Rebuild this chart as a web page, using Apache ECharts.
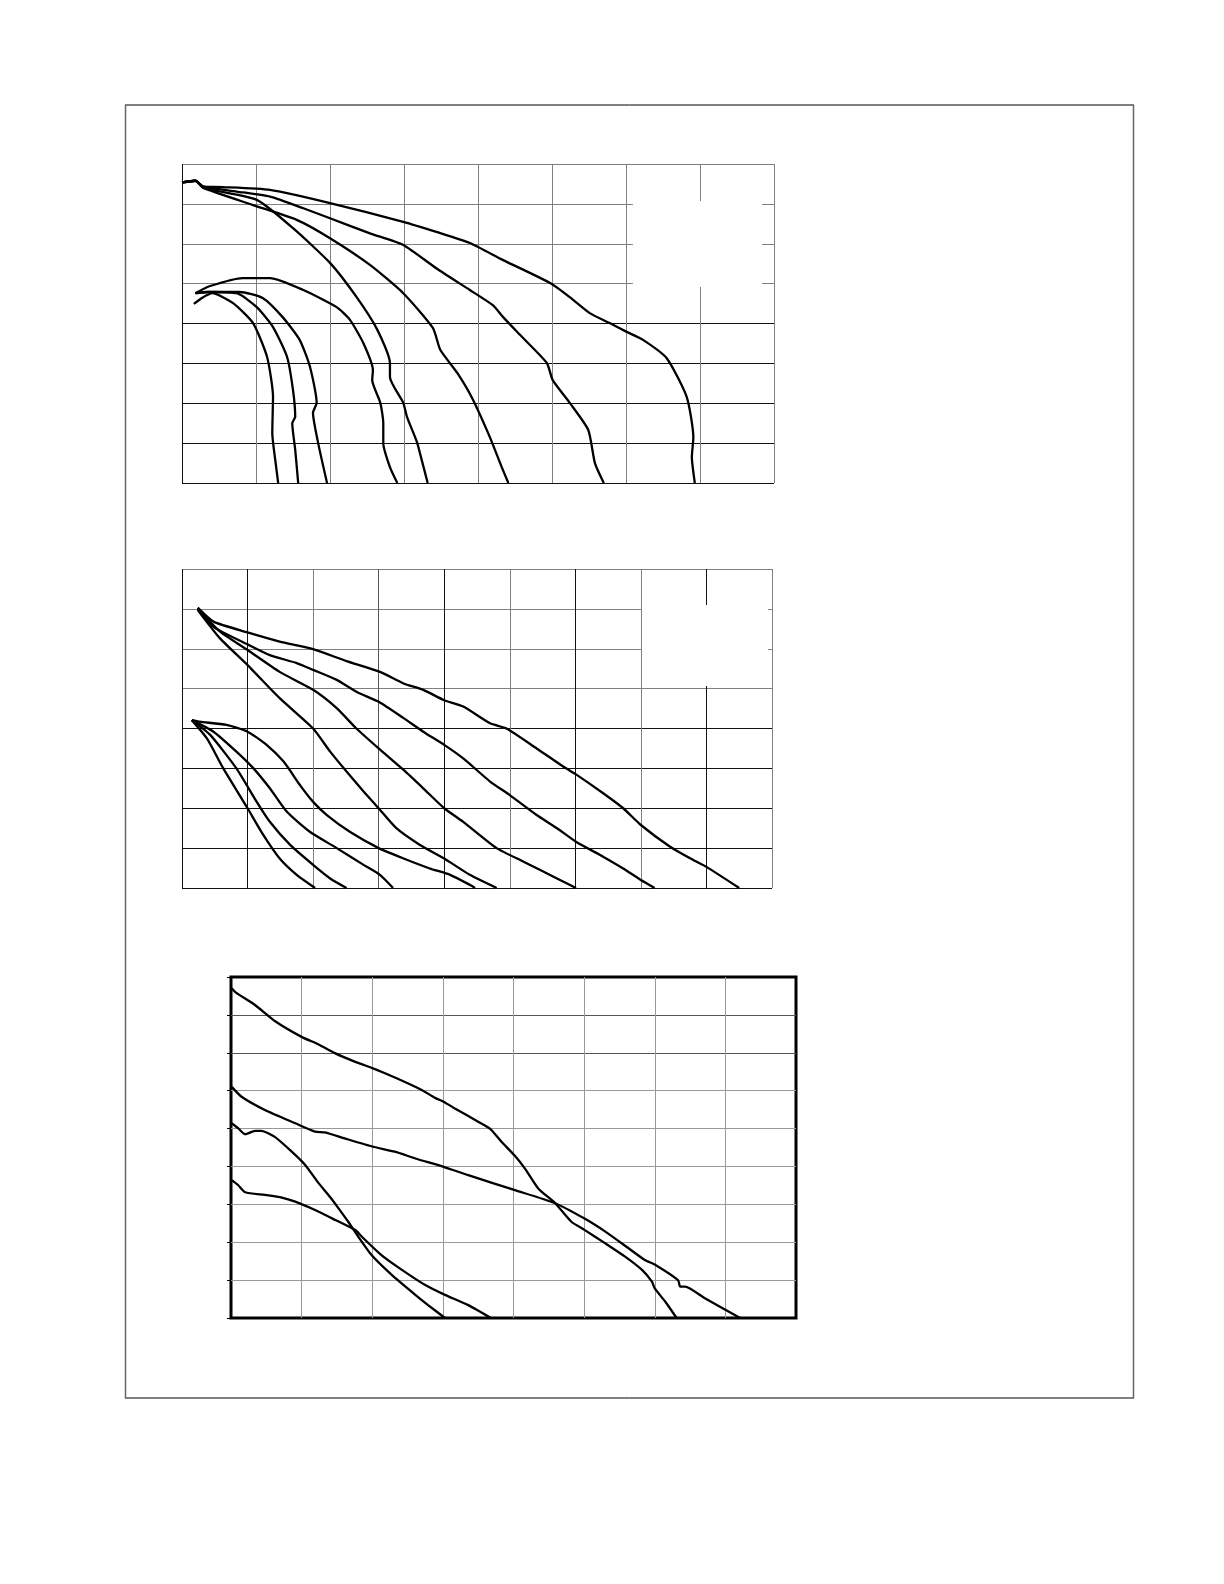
<!DOCTYPE html>
<html>
<head>
<meta charset="utf-8">
<script src="https://cdn.jsdelivr.net/npm/echarts@6/dist/echarts.min.js"></script>
<style>
html, body { margin: 0; padding: 0; background: #fff; }
#main { width: 1224px; height: 1584px; }
</style>
</head>
<body>
<div id="main"></div>
<script>
// 曲线数据，单位 = 网格格数（panel 1: 8x8, panel 2: 9x8, panel 3: 8x9）

// panel 1, upper fan
const p1Up1 = [[0,7.54],[0.18,7.58],[0.29,7.43],[0.55,7.42],[1.19,7.35],[2.0,7.02],[2.99,6.55],[3.45,6.29],[3.89,6.02],[4.34,5.59],[4.97,5.02],[5.24,4.66],[5.51,4.26],[5.78,4.01],[6.01,3.79],[6.23,3.59],[6.55,3.13],[6.82,2.16],[6.91,1.15],[6.89,0.65],[6.93,0]]
const p1Up2 = [[0,7.54],[0.18,7.58],[0.29,7.43],[0.74,7.31],[1.19,7.18],[1.64,6.89],[2.0,6.64],[2.54,6.26],[2.99,5.97],[3.44,5.38],[3.89,4.84],[4.2,4.46],[4.34,4.16],[4.57,3.71],[4.93,3.01],[5.01,2.58],[5.24,2.01],[5.49,1.33],[5.58,0.5],[5.7,0]]
const p1Up3 = [[0,7.54],[0.18,7.58],[0.29,7.4],[0.96,6.97],[1.55,6.6],[2.0,6.14],[2.54,5.47],[2.99,4.76],[3.39,3.89],[3.49,3.34],[3.72,2.76],[3.92,2.13],[4.16,1.15],[4.32,0.4],[4.41,0]]
const p1Up4 = [[0,7.54],[0.18,7.58],[0.29,7.4],[1.01,7.1],[1.5,6.39],[2.0,5.52],[2.36,4.66],[2.64,3.84],[2.81,3.01],[2.81,2.66],[2.99,2.01],[3.04,1.66],[3.18,1.0],[3.32,0]]
// panel 1, lower fan
const p1Lo1 = [[0.18,4.76],[0.38,4.94],[0.82,5.14],[1.19,5.14],[1.64,4.84],[2.09,4.41],[2.27,4.09],[2.45,3.51],[2.58,2.83],[2.57,2.58],[2.68,2.01],[2.72,1.5],[2.72,1.0],[2.81,0.4],[2.91,0]]
const p1Lo2 = [[0.18,4.76],[0.34,4.79],[0.78,4.79],[1.09,4.64],[1.36,4.16],[1.59,3.59],[1.73,2.91],[1.82,2.01],[1.77,1.76],[1.84,1.0],[1.96,0]]
const p1Lo3 = [[0.18,4.76],[0.38,4.79],[0.74,4.76],[1.01,4.41],[1.23,3.91],[1.42,3.16],[1.5,2.33],[1.53,1.66],[1.49,1.5],[1.53,0.83],[1.57,0]]
const p1Lo4 = [[0.16,4.49],[0.27,4.64],[0.41,4.76],[0.69,4.51],[0.96,4.01],[1.15,3.16],[1.23,2.16],[1.22,1.25],[1.26,0.58],[1.3,0]]

// panel 2, upper fan
const p2Up1 = [[0.24,7.03],[0.48,6.68],[1.0,6.41],[1.49,6.18],[2.0,5.99],[2.51,5.69],[3.02,5.42],[3.38,5.13],[3.68,4.97],[4.0,4.71],[4.29,4.55],[4.7,4.13],[4.95,4.0],[5.41,3.5],[5.82,3.04],[6.01,2.85],[6.43,2.37],[6.73,2.0],[7.0,1.58],[7.44,1.04],[7.8,0.7],[8.0,0.53],[8.5,0]]
const p2Up2 = [[0.24,7.01],[0.48,6.55],[1.0,6.11],[1.34,5.84],[1.75,5.64],[2.0,5.47],[2.36,5.22],[2.66,4.92],[3.0,4.67],[3.38,4.26],[3.68,3.92],[4.0,3.59],[4.29,3.25],[4.7,2.67],[5.0,2.33],[5.41,1.83],[5.72,1.5],[6.01,1.16],[6.43,0.78],[6.73,0.49],[7.0,0.2],[7.21,0]]
const p2Up3 = [[0.24,7.0],[0.58,6.43],[1.0,5.97],[1.49,5.42],[2.0,4.97],[2.36,4.51],[2.66,4.0],[3.0,3.5],[3.38,2.96],[3.68,2.5],[4.0,2.0],[4.29,1.66],[4.8,1.0],[5.21,0.66],[5.72,0.24],[6.01,0]]
const p2Up4 = [[0.24,6.97],[0.58,6.26],[1.0,5.59],[1.49,4.76],[2.0,4.0],[2.26,3.42],[2.51,2.92],[2.77,2.42],[3.0,2.0],[3.27,1.5],[3.63,1.08],[4.0,0.74],[4.39,0.33],[4.8,0]]
// panel 2, lower fan
const p2Lo1 = [[0.15,4.21],[0.27,4.17],[0.68,4.09],[1.0,3.92],[1.29,3.59],[1.55,3.17],[1.8,2.58],[2.0,2.16],[2.21,1.83],[2.56,1.41],[3.0,1.0],[3.38,0.74],[3.78,0.49],[4.09,0.33],[4.39,0.08],[4.47,0]]
const p2Lo2 = [[0.15,4.21],[0.48,3.92],[0.83,3.42],[1.09,3.0],[1.34,2.5],[1.6,1.91],[1.95,1.41],[2.36,1.0],[2.77,0.58],[3.02,0.33],[3.22,0]]
const p2Lo3 = [[0.15,4.21],[0.43,3.84],[0.83,3.0],[1.14,2.16],[1.34,1.66],[1.65,1.08],[2.0,0.58],[2.26,0.24],[2.51,0]]
const p2Lo4 = [[0.15,4.21],[0.38,3.75],[0.63,3.0],[1.0,2.0],[1.24,1.33],[1.49,0.74],[1.75,0.33],[2.03,0]]

// panel 3
const p3C1 = [[0.01,8.7],[0.06,8.6],[0.34,8.26],[0.62,7.84],[1.0,7.42],[1.24,7.22],[1.47,6.99],[1.76,6.76],[2.01,6.59],[2.18,6.46],[2.51,6.19],[2.7,6.02],[2.89,5.81],[3.01,5.71],[3.17,5.53],[3.5,5.18],[3.67,4.99],[3.83,4.65],[4.01,4.3],[4.16,3.95],[4.35,3.42],[4.59,3.03],[4.82,2.54],[5.01,2.32],[5.3,1.97],[5.58,1.62],[5.82,1.27],[5.96,0.96],[6.0,0.78],[6.15,0.43],[6.31,0]]
const p3C2 = [[0.01,6.1],[0.15,5.84],[0.48,5.49],[0.91,5.14],[1.19,4.92],[1.33,4.9],[1.61,4.74],[2.01,4.52],[2.32,4.39],[2.61,4.21],[3.01,3.99],[3.36,3.77],[4.01,3.38],[4.59,3.03],[5.0,2.63],[5.3,2.28],[5.63,1.84],[5.86,1.53],[6.01,1.4],[6.33,1.0],[6.36,0.83],[6.43,0.83],[6.71,0.52],[7.21,0]]
const p3C3 = [[0.01,5.14],[0.1,5.01],[0.2,4.85],[0.34,4.94],[0.43,4.94],[0.62,4.78],[0.86,4.39],[1.05,4.04],[1.24,3.56],[1.4,3.2],[1.52,2.9],[1.66,2.54],[1.8,2.15],[1.99,1.66],[2.28,1.13],[2.61,0.61],[2.79,0.34],[3.03,0]]
const p3C4 = [[0.01,3.64],[0.1,3.51],[0.2,3.32],[0.48,3.25],[0.72,3.18],[0.91,3.07],[1.19,2.85],[1.43,2.63],[1.76,2.32],[1.85,2.15],[2.13,1.66],[2.42,1.27],[2.75,0.87],[3.03,0.61],[3.36,0.34],[3.68,0]]

const panel1 = [p1Up1, p1Up2, p1Up3, p1Up4, p1Lo1, p1Lo2, p1Lo3, p1Lo4]
const panel2 = [p2Up1, p2Up2, p2Up3, p2Up4, p2Lo1, p2Lo2, p2Lo3, p2Lo4]
const panel3 = [p3C1, p3C2, p3C3, p3C4]

const chart = echarts.init(document.getElementById('main'))

function makeAxis(gi, max, colors, extra) {
    return Object.assign({
        type: 'value',
        gridIndex: gi,
        min: 0,
        max: max,
        interval: 1,
        axisLabel: { show: false },
        axisTick: { show: false },
        axisLine: { show: false },
        splitLine: { show: true, lineStyle: { color: colors, width: 1 } }
    }, extra || {})
}

function curves(list, gi) {
    return list.map(d => ({
        type: 'line',
        xAxisIndex: gi,
        yAxisIndex: gi,
        data: d,
        symbol: 'none',
        smooth: 0.2,
        silent: true,
        lineStyle: { color: '#000', width: 2.3 }
    }))
}

let series = []
    .concat(curves(panel1, 0))
    .concat(curves(panel2, 1))
    .concat(curves(panel3, 2))

const G = '#808080'
const K = '#111'

chart.setOption({
    animation: false,
    backgroundColor: '#fff',
    grid: [
        { left: 182, top: 164, width: 592, height: 319 },
        { left: 182, top: 569, width: 590, height: 319 },
        { left: 231, top: 977, width: 565, height: 341, show: true, borderColor: '#000', borderWidth: 3 }
    ],
    xAxis: [
        makeAxis(0, 8, [K, G, G, G, G, G, G, G, G]),
        makeAxis(1, 9, [K, K, G, '#555', K, G, K, G, K, G]),
        makeAxis(2, 8, ['#999'], { splitLine: { show: true, showMinLine: false, showMaxLine: false, lineStyle: { color: '#999', width: 1 } } })
    ],
    yAxis: [
        makeAxis(0, 8, [K, K, K, K, K, G, G, G, G]),
        makeAxis(1, 8, [K, K, K, K, K, G, G, G, G]),
        makeAxis(2, 9, ['#999'], {
            axisTick: { show: true, length: 4, lineStyle: { color: '#000', width: 1 } },
            splitLine: { show: true, showMinLine: false, showMaxLine: false,
                lineStyle: { color: ['#999', '#999', '#999', '#999', '#999', '#999', '#555', '#555', '#999', '#999'], width: 1 } }
        })
    ],
    series: series,
    graphic: [
        // 空白图例区域
        { type: 'rect', z: 10, shape: { x: 633, y: 201, width: 129, height: 86 }, style: { fill: '#fff' } },
        { type: 'rect', z: 10, shape: { x: 642, y: 605, width: 126, height: 81 }, style: { fill: '#fff' } },
        // 外框
        { type: 'line', z: 10, shape: { x1: 125, y1: 105, x2: 1134, y2: 105 }, style: { stroke: '#000', lineWidth: 1 } },
        { type: 'line', z: 10, shape: { x1: 125, y1: 1398, x2: 1134, y2: 1398 }, style: { stroke: '#000', lineWidth: 1 } },
        { type: 'line', z: 10, shape: { x1: 125.5, y1: 105, x2: 125.5, y2: 1398 }, style: { stroke: '#666', lineWidth: 1.5 } },
        { type: 'line', z: 10, shape: { x1: 1133.5, y1: 105, x2: 1133.5, y2: 1398 }, style: { stroke: '#666', lineWidth: 1.5 } }
    ]
})
</script>
</body>
</html>
